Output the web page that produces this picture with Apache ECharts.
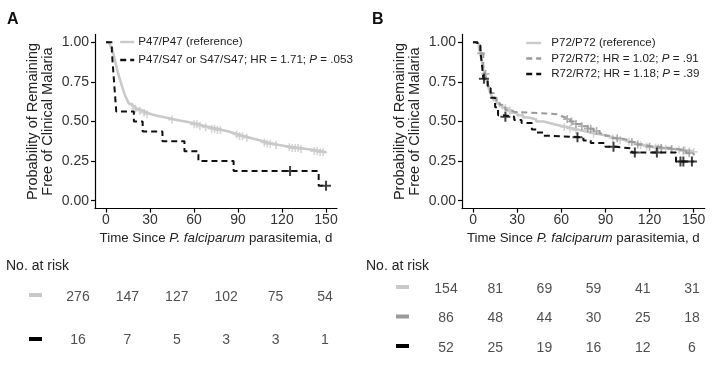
<!DOCTYPE html>
<html><head><meta charset="utf-8">
<script src="https://cdn.jsdelivr.net/npm/echarts@6.0.0/dist/echarts.min.js"></script>
<style>html,body{margin:0;padding:0;background:#fff}#c{width:717px;height:369px}</style>
</head><body><div id="c"></div>
<script>
// ---------- DATA ----------
const xTicks = [0, 30, 60, 90, 120, 150];
const yTicks = [0, 0.25, 0.5, 0.75, 1];
const riskTimes = [0, 30, 60, 90, 120, 150];

// Panel A
const namesA = ['P47/P47 (reference)', 'P47/S47 or S47/S47; HR = 1.71; P = .053'];
const kmA_ref = [[0,1],[2,0.99],[3,0.975],[4,0.96],[5,0.93],[6,0.89],[7,0.85],[8,0.81],[9,0.78],[10,0.75],[11,0.72],[12,0.69],[13,0.665],[14,0.645],[15,0.625],[16,0.61],[18,0.595],[20,0.58],[22,0.568],[25,0.556],[28,0.546],[31,0.536],[35,0.528],[39,0.52],[43,0.512],[47,0.505],[51,0.498],[55,0.49],[59,0.482],[63,0.472],[67,0.463],[71,0.455],[75,0.447],[79,0.438],[83,0.428],[87,0.418],[90,0.408],[94,0.398],[98,0.388],[102,0.378],[106,0.368],[110,0.36],[114,0.352],[118,0.345],[122,0.338],[127,0.332],[132,0.326],[137,0.32],[142,0.313],[146,0.306],[150,0.302]];
const kmA_var = [[0,1],[4,0.9375],[5,0.8125],[6,0.6875],[7,0.5625],[19,0.5],[25,0.4375],[38.5,0.375],[53.5,0.3125],[63,0.25],[87,0.1875],[145,0.09375],[150,0.09375]];
const censA_ref = [20,23,26,28,45,60,62,64,68,72,74,76,78,89,91,93,96,108,110,112,116,125,127,129,131,133,142,144,146,148];
const censA_var = [125.5,150];
const riskA_ref = [276,147,127,102,75,54];
const riskA_var = [16,7,5,3,3,1];

// Panel B
const namesB = ['P72/P72 (reference)', 'P72/R72; HR = 1.02; P = .91', 'R72/R72; HR = 1.18; P = .39'];
const kmB_ref = [[0,1],[2,0.99],[4,0.96],[5,0.93],[6,0.88],[7,0.83],[8,0.79],[9,0.76],[10,0.73],[11,0.70],[12,0.675],[13,0.655],[14,0.635],[16,0.615],[18,0.60],[20,0.585],[23,0.57],[26,0.555],[30,0.54],[34,0.525],[38,0.513],[43,0.50],[48,0.488],[53,0.477],[58,0.466],[63,0.455],[68,0.445],[73,0.435],[78,0.425],[83,0.416],[88,0.405],[93,0.393],[98,0.383],[103,0.372],[108,0.36],[112,0.35],[117,0.342],[122,0.335],[127,0.33],[133,0.325],[140,0.318],[145,0.312],[150,0.308]];
const kmB_het = [[0,1],[3,0.977],[5,0.93],[7,0.85],[8,0.8],[9,0.77],[10,0.74],[11,0.71],[12,0.68],[14,0.65],[16,0.63],[18,0.605],[20,0.59],[22,0.572],[25,0.562],[28,0.556],[38,0.551],[50,0.546],[57,0.535],[60,0.525],[63,0.515],[66,0.5],[70,0.485],[74,0.47],[78,0.455],[82,0.44],[86,0.425],[90,0.41],[95,0.395],[100,0.385],[105,0.37],[110,0.355],[115,0.345],[120,0.34],[127,0.332],[135,0.325],[140,0.315],[145,0.3],[150,0.288]];
const kmB_hom = [[0,1],[3,0.98],[5,0.94],[6,0.865],[7,0.77],[10,0.71],[12,0.65],[15,0.59],[17,0.54],[20,0.53],[28,0.51],[33,0.49],[40,0.45],[43,0.43],[48,0.41],[53,0.4],[75,0.38],[80,0.365],[90,0.34],[97,0.33],[108,0.305],[138,0.248],[150,0.248]];
const censB_ref = [22,25,62,66,70,82,95,100,106,114,118,124,126,128,131,135,140,144,147,150];
const censB_het = [5.5,8.5,64,67,70,74,78,80,84,98,108,112,120,128,135,143,147];
const censB_hom = [7.4,22,71,95.5,110,125,141,143,148.8];
const riskB_ref = [154,81,69,59,41,31];
const riskB_het = [86,48,44,30,25,18];
const riskB_hom = [52,25,19,16,12,6];

// ---------- STYLE ----------
const FONT = 'Liberation Sans, Arial, sans-serif';
const LIGHT = '#c9c9c9', MID = '#9a9a9a', DARK = '#111111';
const PLUS = 'path://M4,0H6V4H10V6H6V10H4V6H0V4H4Z';

function survAt(curve, t) {
  let s = curve[0][1];
  for (const p of curve) { if (p[0] <= t) s = p[1]; else break; }
  return s;
}
function censorPts(curve, times) { return times.map(t => [t, survAt(curve, t)]); }

const grids = [
  {left: 95, top: 34.4, width: 242, height: 174.2},
  {left: 462, top: 34.4, width: 242.7, height: 174.2},
  {left: 78, top: 296.7, width: 247, height: 43.3},
  {left: 446, top: 289, width: 246, height: 58.7}
];

function plotX(gi) {
  return {
    type: 'value', gridIndex: gi, min: -7.5, max: 157.5,
    name: '{n|Time Since }{i|P. falciparum}{n| parasitemia, d}',
    nameLocation: 'middle', nameGap: 23,
    nameTextStyle: {rich: {
      n: {fontFamily: FONT, fontSize: 13.3, color: '#222'},
      i: {fontFamily: FONT, fontSize: 13.3, color: '#222', fontStyle: 'italic'}
    }},
    splitLine: {show: false},
    axisLine: {show: true, onZero: false, lineStyle: {color: '#000', width: 1.2}},
    axisTick: {show: true, length: 4, lineStyle: {color: '#000', width: 1.2}, customValues: xTicks},
    axisLabel: {fontFamily: FONT, fontSize: 14, color: '#333', margin: 5, customValues: xTicks}
  };
}
function plotY(gi) {
  return {
    type: 'value', gridIndex: gi, min: -0.05, max: 1.05,
    name: 'Probability of Remaining\nFree of Clinical Malaria',
    nameLocation: 'middle', nameGap: 40, nameRotate: 90,
    nameTextStyle: {fontFamily: FONT, fontSize: 14.5, color: '#222', lineHeight: 15},
    splitLine: {show: false},
    axisLine: {show: true, onZero: false, lineStyle: {color: '#000', width: 1.2}},
    axisTick: {show: true, length: 4, lineStyle: {color: '#000', width: 1.2}, customValues: yTicks},
    axisLabel: {fontFamily: FONT, fontSize: 14, color: '#333', margin: 6, customValues: yTicks,
      formatter: v => v.toFixed(2)}
  };
}
function tableX(gi) { return {type: 'value', gridIndex: gi, min: 0, max: 150, show: false}; }
function tableY(gi, n) { return {type: 'value', gridIndex: gi, min: 0, max: n - 1, inverse: true, show: false}; }

function kmLine(name, gi, data, color, width, dashed, z) {
  return {
    name, type: 'line', step: 'end', xAxisIndex: gi, yAxisIndex: gi, data,
    symbol: 'none', animation: false, z,
    lineStyle: {color, width, type: dashed ? [6, 4] : 'solid'},
    itemStyle: {color}
  };
}
function censor(gi, pts, color, size, z) {
  return {
    type: 'scatter', xAxisIndex: gi, yAxisIndex: gi, data: pts, symbol: PLUS,
    symbolSize: size, itemStyle: {color}, animation: false, z, silent: true
  };
}
function riskSeries(gi, rows) {
  const data = [];
  rows.forEach((r, ri) => r.forEach((v, i) => data.push([riskTimes[i], ri, v])));
  return {
    type: 'scatter', xAxisIndex: gi, yAxisIndex: gi, data, symbolSize: 1,
    itemStyle: {color: 'rgba(0,0,0,0)'}, animation: false, silent: true,
    label: {show: true, position: 'inside', formatter: p => String(p.value[2]),
      fontFamily: FONT, fontSize: 14, color: '#222'}
  };
}
function legendFmt(name) {
  const k = name.indexOf('P =');
  if (k < 0) return '{n|' + name + '}';
  return '{n|' + name.slice(0, k) + '}{i|P}{n|' + name.slice(k + 1) + '}';
}
const legendRich = {
  n: {fontFamily: FONT, fontSize: 11.6, color: '#222', lineHeight: 14},
  i: {fontFamily: FONT, fontSize: 11.6, color: '#222', fontStyle: 'italic', lineHeight: 14}
};

const option = {
  backgroundColor: '#fff',
  animation: false,
  grid: grids,
  xAxis: [plotX(0), plotX(1), tableX(2), tableX(3)],
  yAxis: [plotY(0), plotY(1), tableY(2, 2), tableY(3, 3)],
  legend: [
    {data: namesA, left: 114, top: 31, orient: 'vertical', itemWidth: 14, itemHeight: 14, itemGap: 6,
      itemStyle: {opacity: 0}, lineStyle: {width: 2.4},
      formatter: legendFmt, textStyle: {rich: legendRich, padding: [0, 0, 0, -1]}, selectedMode: false},
    {data: namesB, left: 520, top: 32, orient: 'vertical', itemWidth: 15, itemHeight: 14, itemGap: 3.5,
      itemStyle: {opacity: 0}, lineStyle: {width: 2.4},
      formatter: legendFmt, textStyle: {rich: legendRich, padding: [0, 0, 0, 5]}, selectedMode: false}
  ],
  series: [
    kmLine(namesA[0], 0, kmA_ref, LIGHT, 2.6, false, 2),
    censor(0, censorPts(kmA_ref, censA_ref), LIGHT, 8, 2),
    kmLine(namesA[1], 0, kmA_var, DARK, 2, true, 3),
    censor(0, censorPts(kmA_var, censA_var), DARK, 10, 3),

    kmLine(namesB[0], 1, kmB_ref, LIGHT, 2.6, false, 2),
    censor(1, censorPts(kmB_ref, censB_ref), LIGHT, 8, 2),
    kmLine(namesB[1], 1, kmB_het, MID, 2, true, 3),
    censor(1, censorPts(kmB_het, censB_het), MID, 8, 3),
    kmLine(namesB[2], 1, kmB_hom, DARK, 2, true, 4),
    censor(1, censorPts(kmB_hom, censB_hom), DARK, 10, 4),

    riskSeries(2, [riskA_ref, riskA_var]),
    riskSeries(3, [riskB_ref, riskB_het, riskB_hom])
  ],
  graphic: [
    {type: 'text', left: 7, top: 12, style: {text: 'A', font: 'bold 16px ' + FONT, fill: '#111'}},
    {type: 'text', left: 372, top: 12, style: {text: 'B', font: 'bold 16px ' + FONT, fill: '#111'}},
    {type: 'text', left: 6, top: 259, style: {text: 'No. at risk', font: '14px ' + FONT, fill: '#222'}},
    {type: 'text', left: 366, top: 259, style: {text: 'No. at risk', font: '14px ' + FONT, fill: '#222'}},
    {type: 'rect', shape: {x: 29, y: 293, width: 13, height: 4}, style: {fill: LIGHT}},
    {type: 'rect', shape: {x: 29, y: 337, width: 13, height: 4}, style: {fill: '#000'}},
    {type: 'rect', shape: {x: 396, y: 285, width: 13, height: 4}, style: {fill: LIGHT}},
    {type: 'rect', shape: {x: 396, y: 314.5, width: 13, height: 4}, style: {fill: MID}},
    {type: 'rect', shape: {x: 396, y: 344, width: 13, height: 4}, style: {fill: '#000'}}
  ]
};
const chart = echarts.init(document.getElementById('c'), null, {renderer: 'canvas'});
chart.setOption(option);
</script></body></html>
